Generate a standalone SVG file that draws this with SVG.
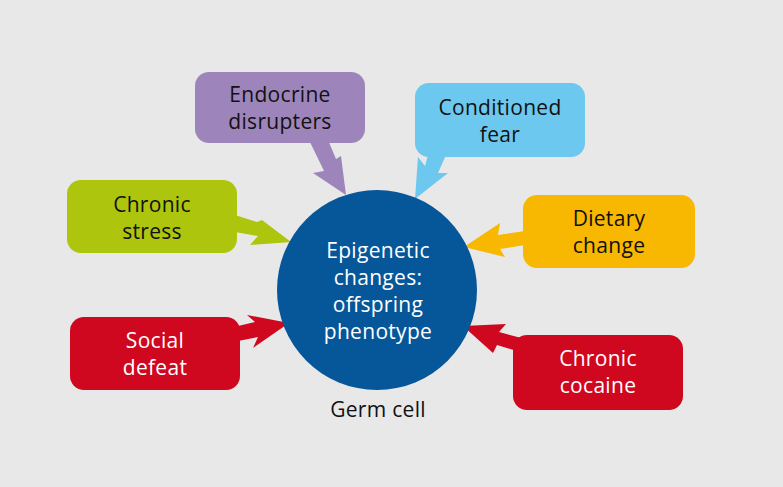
<svg xmlns="http://www.w3.org/2000/svg" width="783" height="487" viewBox="0 0 783 487">
<style>
text{font-family:"Open Sans","Noto Sans","Liberation Sans",sans-serif;font-size:21px;letter-spacing:0.3px;text-anchor:middle;fill:#111111}
.w{fill:#ffffff}
.purple{fill:#9d85bb}
.blue{fill:#6dc8ef}
.green{fill:#adc50d}
.yellow{fill:#f8b700}
.red{fill:#d0081f}
</style>
<rect x="0" y="0" width="783" height="487" fill="#e8e8e8"/>
<g id="connectors">
<polygon class="purple" points="309,140 324,171 313,173 346,195 341,156 336,159 328,140"/>
<polygon class="blue" points="428,155 446,155 438,173 448,173 415,199 418,157 425,166"/>
<polygon class="green" points="235,215 257,222 262,220 291,242 250,245 258,236 235,232"/>
<polygon class="yellow" points="525,231 498,235 500,223 464,247 505,257 500,249 525,245"/>
<polygon class="red" points="238,326 255,322 247,315 289,323 253,348 258,337 238,341"/>
<polygon class="red" points="463,326 506,324 499,332 525,339 517,351 497,345 493,353"/>
</g>
<g id="germ-cell">
<circle cx="377" cy="290" r="100" fill="#06569a"/>
<text class="w" x="378" y="258">Epigenetic</text>
<text class="w" x="378" y="285">changes:</text>
<text class="w" x="378" y="312">offspring</text>
<text class="w" x="378" y="339">phenotype</text>
<text x="378" y="417">Germ cell</text>
</g>
<g id="endocrine">
<rect class="purple" x="195" y="72" width="170" height="71" rx="14"/>
<text x="280" y="101.5">Endocrine</text>
<text x="280" y="128.5">disrupters</text>
</g>
<g id="conditioned-fear">
<rect class="blue" x="415" y="83" width="170" height="74" rx="14"/>
<text x="500" y="114.5">Conditioned</text>
<text x="500" y="141.5">fear</text>
</g>
<g id="chronic-stress">
<rect class="green" x="67" y="180" width="170" height="73" rx="14"/>
<text x="152" y="211.5">Chronic</text>
<text x="152" y="238.5">stress</text>
</g>
<g id="dietary-change">
<rect class="yellow" x="523" y="195" width="172" height="73" rx="14"/>
<text x="609" y="225.5">Dietary</text>
<text x="609" y="252.5">change</text>
</g>
<g id="social-defeat">
<rect class="red" x="70" y="317" width="170" height="73" rx="14"/>
<text class="w" x="155" y="347.5">Social</text>
<text class="w" x="155" y="374.5">defeat</text>
</g>
<g id="chronic-cocaine">
<rect class="red" x="513" y="335" width="170" height="75" rx="14"/>
<text class="w" x="598" y="366">Chronic</text>
<text class="w" x="598" y="393">cocaine</text>
</g>
</svg>
